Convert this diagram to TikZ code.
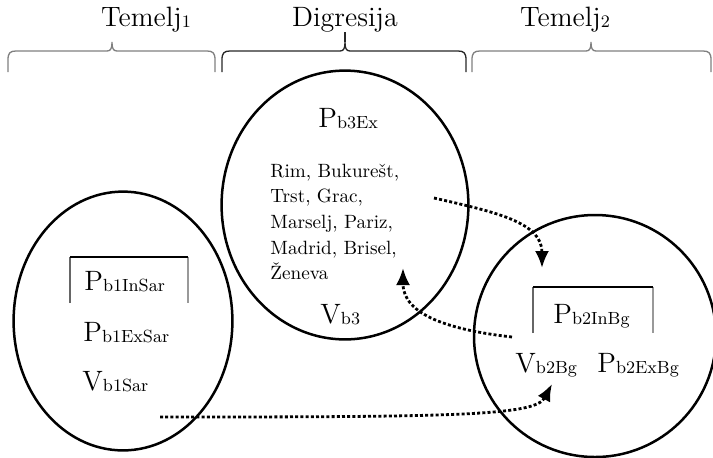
\documentclass[tikz,border=0pt]{standalone}
\usetikzlibrary{arrows.meta,shapes.geometric}
\newcommand{\sub}[1]{\raisebox{-0.5pt}{\fontsize{8.8}{10}\selectfont #1}}

\begin{document}
\begin{tikzpicture}[
  x=0.5pt, y=-0.5pt,
  bubble/.style={ellipse, draw, line width=1.25pt, inner sep=0pt},
  head/.style={font=\fontsize{14}{17}\selectfont, anchor=base, inner sep=0pt},
  term/.style={font=\fontsize{14}{17}\selectfont, anchor=base west, inner sep=0pt},
  cityline/.style={font=\fontsize{9.6}{12}\selectfont, anchor=base west, inner sep=0pt},
  bracepen/.style={line width=0.65pt},
  lid/.style={line width=0.9pt},
  side/.style={line width=0.6pt, black!60},
  link/.style={line width=1.4pt, dash pattern=on 1.5pt off 1.1pt,
    -{Latex[length=8.5pt,width=7pt]}},
]
  \useasboundingbox (0,0) rectangle (713,457);

  % titles and braces
  \node[head] (tem1) at (146,26) {Temelj\sub{1}};
  \node[head] (dig)  at (345,26) {Digresija};
  \node[head] (tem2) at (565,26) {Temelj\sub{2}};
  \foreach \a/\t/\b/\c [count=\i] in {8/112/215/gray, 222/345/466/black!85, 472/591/711/gray} {
    \coordinate (tip\i) at (\t,42);
    \draw[bracepen, \c] (\a,72) -- (\a,60) .. controls (\a,53) and (\a+2,51) .. (\a+8,51)
      -- (\t-5,51) .. controls (\t-1,51) and (\t,48) .. (tip\i)
      .. controls (\t,48) and (\t+1,51) .. (\t+5,51)
      -- (\b-8,51) .. controls (\b-2,51) and (\b,53) .. (\b,60) -- (\b,72);
  }
  \draw[bracepen, black!85] (tip2) -- (dig.south);

  % the three circles
  \node[bubble, minimum width=109.4pt, minimum height=129.4pt] (base1) at (123,321) {};
  \node[bubble, minimum width=123.4pt, minimum height=134.4pt] (digr) at (345,205) {};
  \node[bubble, minimum width=121pt, minimum height=121pt] (base2) at (595,336) {};

  % left circle
  \draw[side] (70,303) -- (70,257);
  \draw[side, black!40] (188,257) -- (188,303);
  \draw[lid] (70,257) -- (188,257);
  \node[term] (pin1) at (84,290) {P\sub{b1InSar}};
  \node[term] (pex1) at (83,341) {P\sub{b1ExSar}};
  \node[term] (v1)   at (82,390) {V\sub{b1Sar}};

  % middle circle
  \node[term] (pex3) at (318,127) {P\sub{b3Ex}};
  \foreach \city [count=\i from 0] in {{Rim, Bukurešt,}, {Trst, Grac,},
      {Marselj, Pariz,}, {Madrid, Brisel,}, {Ženeva}}
    \node[cityline] (city\i) at (270,177+25.7*\i) {\city};
  \node[term] (v3) at (320,323) {V\sub{b3}};

  % right circle
  \draw[side] (533,333) -- (533,287);
  \draw[side, black!40] (653,287) -- (653,333);
  \draw[lid] (533,287) -- (653,287);
  \node[term] (pin2) at (553,323) {P\sub{b2InBg}};
  \node[term] (v2)   at (515,372) {V\sub{b2Bg}};
  \node[term] (pex2) at (597,372) {P\sub{b2ExBg}};

  % dotted links
  \coordinate (fromlist) at (434,198);
  \coordinate (intobox)  at (542,268);
  \coordinate (fromv2)   at (512,337);
  \coordinate (intolist) at (403,268);
  \coordinate (fromv1)   at (160,417);
  \coordinate (intov2)   at (552,384);
  \draw[link] (fromlist) .. controls (495,212) and (542,222) .. (intobox);
  \draw[link] (fromv2) .. controls (450,330) and (403,315) .. (intolist);
  \draw[link] (fromv1) .. controls (450,417) and (535,416) .. (intov2);
\end{tikzpicture}
\end{document}
